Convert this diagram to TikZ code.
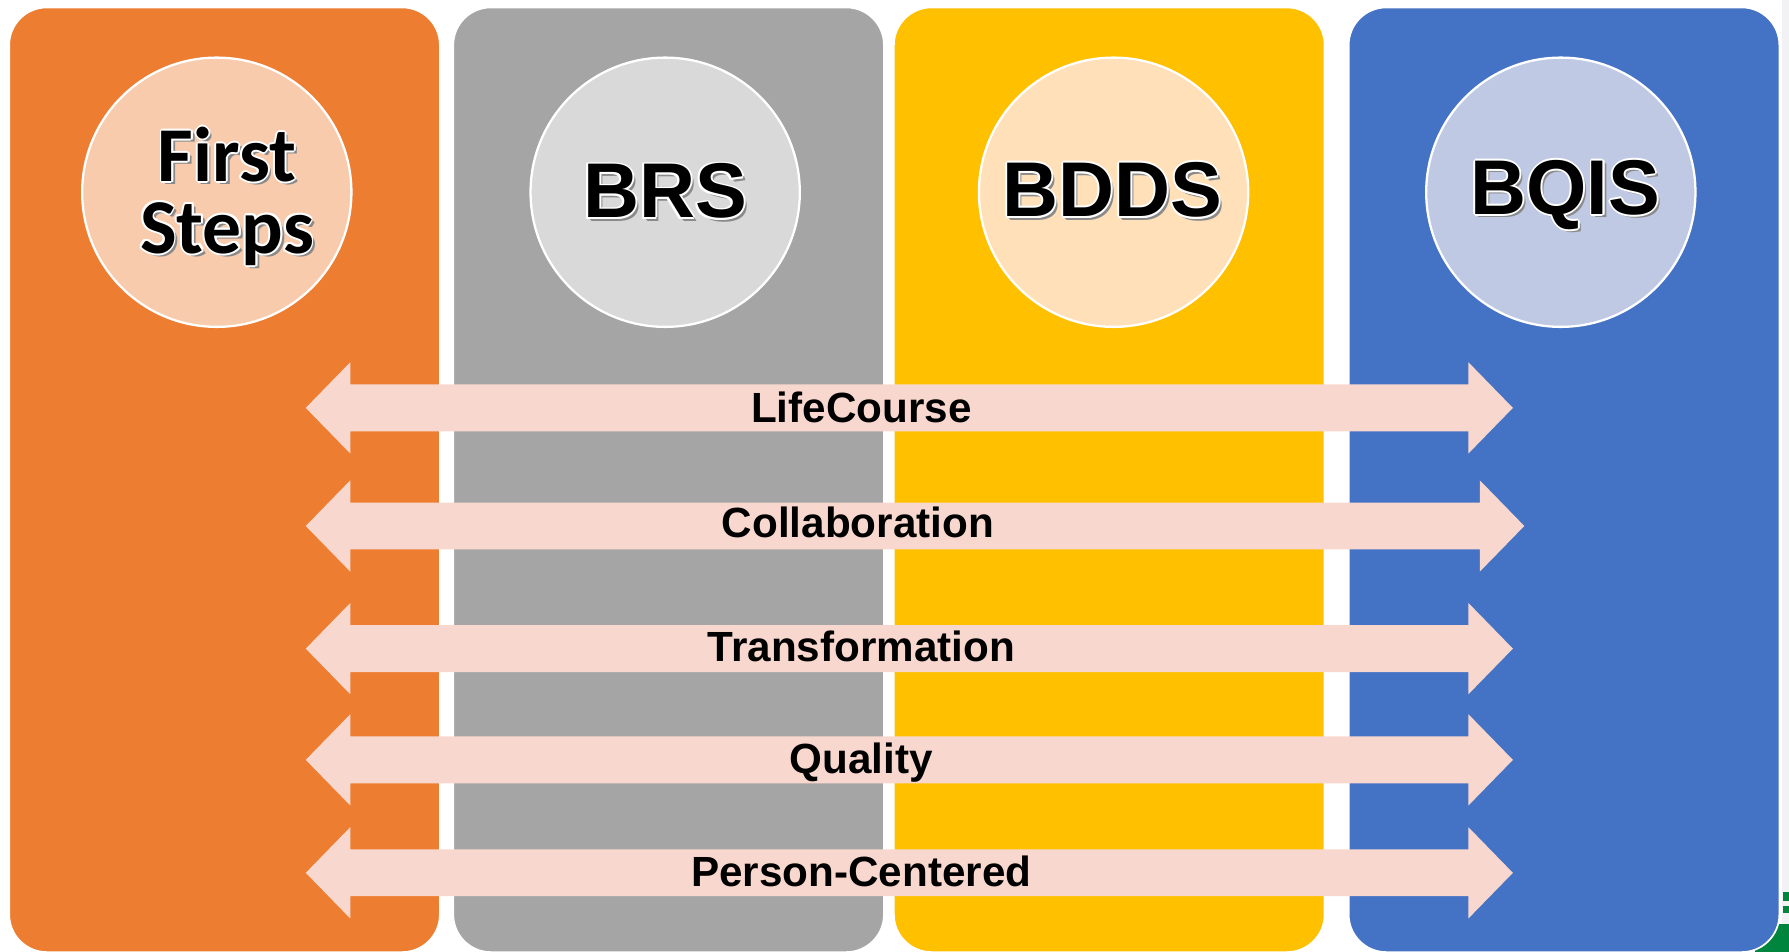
\documentclass[tikz,border=0pt]{standalone}
\usepackage{fontspec}
\setmainfont{Liberation Sans}
\newfontfamily\calibfont{Carlito}
\definecolor{colorange}{HTML}{ED7D31}
\definecolor{colgray}{HTML}{A5A5A5}
\definecolor{colyellow}{HTML}{FFC000}
\definecolor{colblue}{HTML}{4472C4}
\definecolor{tintorange}{HTML}{F8CBAD}
\definecolor{tintgray}{HTML}{D9D9D9}
\definecolor{tintyellow}{HTML}{FFE0B9}
\definecolor{tintblue}{HTML}{BFC9E4}
\definecolor{arrowfill}{HTML}{F8D8CE}
\definecolor{shadowc}{HTML}{8A8A8A}
\definecolor{stripc}{HTML}{F2F2F5}
\definecolor{logogreen}{HTML}{00853E}
\newcommand\fxtxt[1]{\leavevmode
  \rlap{\kern3pt\lower3pt\hbox{\color{shadowc}#1}}%
  \rlap{\kern2pt\lower2pt\hbox{\color{shadowc}#1}}%
  \rlap{\kern1.6pt\hbox{\color{white}#1}}%
  \rlap{\kern-1.6pt\hbox{\color{white}#1}}%
  \rlap{\raise1.6pt\hbox{\color{white}#1}}%
  \rlap{\lower1.6pt\hbox{\color{white}#1}}%
  \rlap{\kern1.15pt\raise1.15pt\hbox{\color{white}#1}}%
  \rlap{\kern-1.15pt\raise1.15pt\hbox{\color{white}#1}}%
  \rlap{\kern1.15pt\lower1.15pt\hbox{\color{white}#1}}%
  \rlap{\kern-1.15pt\lower1.15pt\hbox{\color{white}#1}}%
  \hbox{\color{black}#1}}
\newcommand\blockarrow[2]{%
  \fill[arrowfill] (268,#1) -- (307,#1-40) -- (307,#1-20.5) -- (#2-39,#1-20.5)
    -- (#2-39,#1-40) -- (#2,#1) -- (#2-39,#1+40) -- (#2-39,#1+20.5)
    -- (307,#1+20.5) -- (307,#1+40) -- cycle;}
\begin{document}
\begin{tikzpicture}[x=1pt,y=-1pt,
  column/.style={rectangle, rounded corners=33pt, draw=white, line width=1.5pt,
    inner sep=0pt, outer sep=0pt, minimum width=377.5pt, minimum height=828pt},
  badge/.style={circle, draw=white, line width=2pt, inner sep=0pt, minimum size=236pt},
  bigtxt/.style={font=\fontsize{68}{68}\selectfont\bfseries, inner sep=0pt, anchor=base},
  steptxt/.style={font=\calibfont\fontsize{68}{68}\selectfont\bfseries, inner sep=0pt, anchor=base},
  lbl/.style={font=\fontsize{37}{37}\selectfont\bfseries, inner sep=0pt, anchor=base}]
\useasboundingbox (0,0) rectangle (1568,834);
\fill[white] (0,0) rectangle (1568,834);
% right edge strip and logo fragment
\fill[stripc] (1562,0) rectangle (1568,834);
\fill[logogreen] (1538,810) rectangle (1568,834);
\fill[logogreen] (1563,782) rectangle (1568,790);
\fill[logogreen] (1563,794) rectangle (1568,800);
% columns
\node[column, fill=colorange] (col1) at (196.8,420.5) {};
\node[column, fill=colgray]   (col2) at (586.0,420.5) {};
\node[column, fill=colyellow] (col3) at (972.2,420.5) {};
\node[column, fill=colblue]   (col4) at (1370.8,420.5) {};
% badges
\node[badge, fill=tintorange] (c1) at (190,168.5) {};
\node[badge, fill=tintgray]   (c2) at (583,168.5) {};
\node[badge, fill=tintyellow] (c3) at (976,168.5) {};
\node[badge, fill=tintblue]   (c4) at (1368,168.5) {};
\node[steptxt] (t1a) at (199,159) {\fxtxt{First}};
\node[steptxt] (t1b) at (199,222) {\fxtxt{Steps}};
\node[bigtxt] (t2) at (583,191) {\fxtxt{BRS}};
\node[bigtxt] (t3) at (975,190) {\fxtxt{BDDS}};
\node[bigtxt] (t4) at (1372,188) {\fxtxt{BQIS}};
% block arrows
\blockarrow{357.5}{1326}
\blockarrow{461}{1336}
\blockarrow{568.5}{1326}
\blockarrow{666}{1326}
\blockarrow{765}{1326}
\node[lbl] (a1) at (755,370) {LifeCourse};
\node[lbl] (a2) at (752,471) {Collaboration};
\node[lbl] (a3) at (755,580) {Transformation};
\node[lbl] (a4) at (755,678) {Quality};
\node[lbl] (a5) at (755,777) {Person-Centered};
\end{tikzpicture}
\end{document}
